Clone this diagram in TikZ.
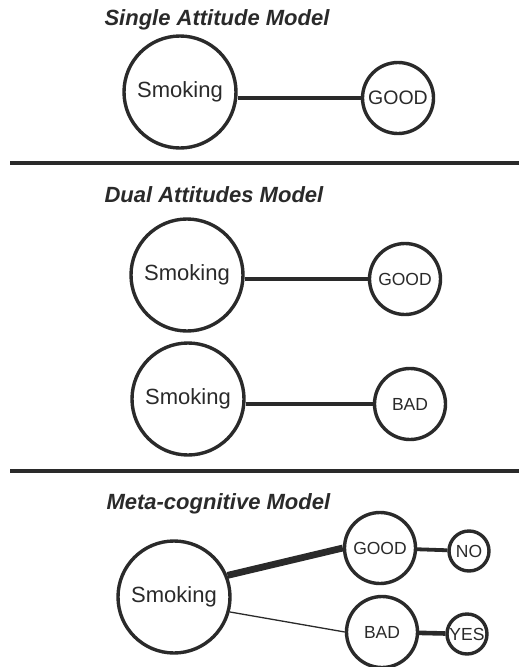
\documentclass[tikz,border=0pt]{standalone}
\usepackage{fontspec}
\setmainfont{Liberation Sans}
\usepackage{xcolor}
\definecolor{ink}{HTML}{2A2A2A}

\begin{document}
\begin{tikzpicture}[x=1pt,y=-1pt,
    attnode/.style={circle,draw=ink,line width=3.4pt,inner sep=0pt,text=ink},
    bignode/.style={attnode,minimum size=112pt,font=\fontsize{22}{24}\selectfont},
    valnode/.style={attnode,minimum size=71pt,font=\fontsize{17.5}{20}\selectfont},
    ansnode/.style={attnode,minimum size=40pt,font=\fontsize{17.5}{20}\selectfont},
    assoc/.style={draw=ink,line width=3.4pt},
    heading/.style={anchor=base west,text=ink,font=\fontsize{22}{24}\selectfont\bfseries\itshape},
    sepline/.style={draw=ink,line width=4.4pt}]
    \useasboundingbox (0,0) rectangle (519,667);
    \fill[white] (0,0) rectangle (519,667);

    % single attitude
    \node[heading] (t1) at (101,25) {Single Attitude Model};
    \node[bignode] (sm1) at (180,92) {Smoking};
    \node[valnode,font=\fontsize{19.5}{22}\selectfont] (good1) at (398,98) {GOOD};
    \draw[assoc] (good1.west) -- (good1.west -| sm1.east);

    \draw[sepline] (10,163) -- (519,163);

    % dual attitudes
    \node[heading] (t2) at (101,202) {Dual Attitudes Model};
    \node[bignode] (sm2a) at (187,275) {Smoking};
    \node[valnode] (good2) at (405,279) {GOOD};
    \node[bignode] (sm2b) at (188,399) {Smoking};
    \node[valnode] (bad2) at (410,404) {BAD};
    \draw[assoc] (good2.west) -- (good2.west -| sm2a.east);
    \draw[assoc] (bad2.west) -- (bad2.west -| sm2b.east);

    \draw[sepline] (10,471) -- (519,471);

    % meta-cognitive
    \node[heading] (t3) at (103,509) {Meta-cognitive Model};
    \node[bignode] (sm3) at (174,597) {Smoking};
    \node[valnode] (good3) at (380,548) {GOOD};
    \node[valnode] (bad3) at (382,632) {BAD};
    \node[ansnode] (no3) at (469,551) {NO};
    \node[ansnode] (yes3) at (467,634) {YES};
    \draw[assoc,line width=6.8pt] (sm3.22) -- (good3.west);
    \draw[assoc,line width=1.3pt] (sm3.-15) -- (bad3.west);
    \draw[assoc,line width=3.8pt] (good3) -- (no3);
    \draw[assoc,line width=4.6pt] (bad3) -- (yes3);
\end{tikzpicture}
\end{document}
